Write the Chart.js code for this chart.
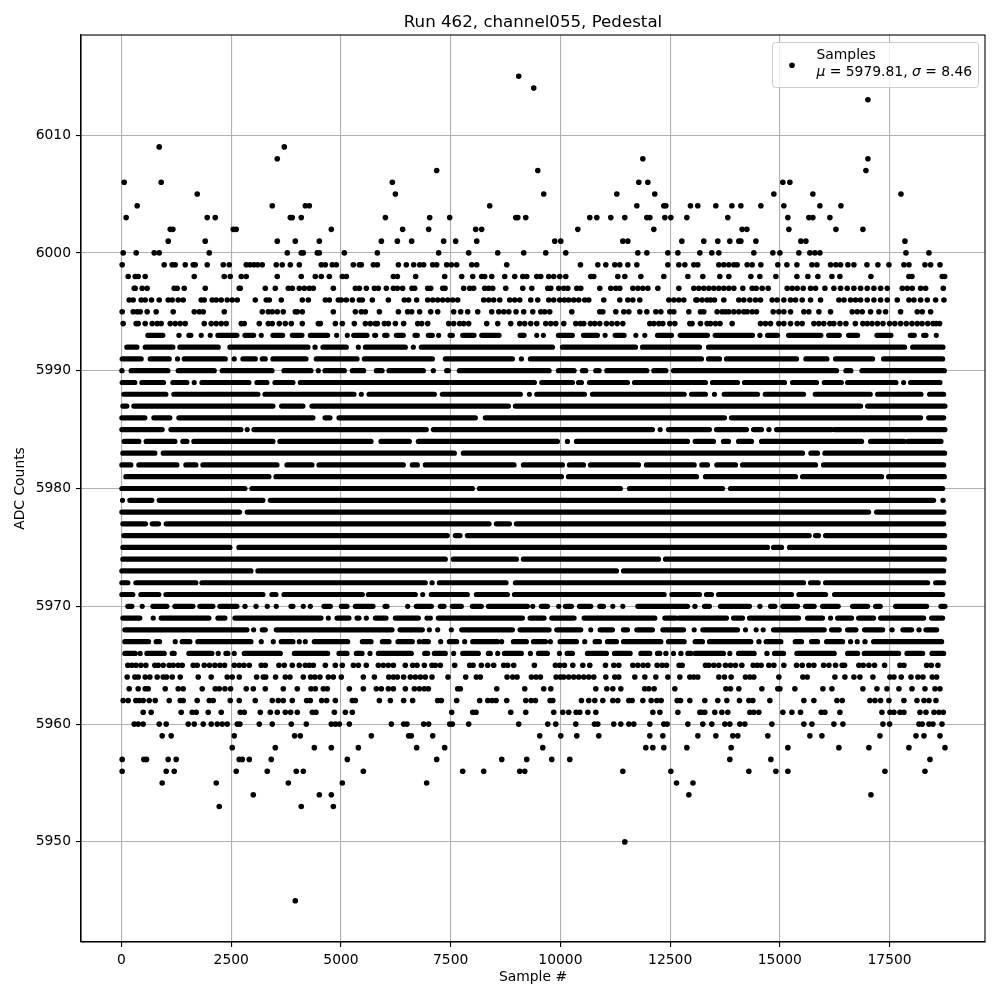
<!DOCTYPE html>
<html>
<head>
<meta charset="utf-8">
<title>Run 462, channel055, Pedestal</title>
<script src="https://cdn.jsdelivr.net/npm/chart.js@4/dist/chart.umd.min.js"></script>
<style>
  html, body { margin: 0; background: #fff; }
  canvas { display: block; }
</style>
</head>
<body>
<canvas id="chart" width="1000" height="1000"></canvas>
<script>
const xTicks = [0, 2500, 5000, 7500, 10000, 12500, 15000, 17500];
const yTicks = [5950, 5960, 5970, 5980, 5990, 6000, 6010];

// ADC levels with few samples: level, then the sample numbers
const sparseLevels = [6015, 6014, 6013, 6009, 6008, 6007, 6006, 6005, 6004, 6003, 6002, 6001, 6000,
  5999, 5998, 5997, 5996, 5995, 5994,
  5965, 5964, 5963, 5962, 5961, 5960, 5959, 5958, 5957, 5956, 5955, 5954, 5953, 5950, 5945];
const sparseSamples = [
  [9050],
  [9392],
  [17006],
  [859, 3709],
  [3549, 11878, 17006],
  [7181, 9484, 16961],
  [61, 904, 6171, 11786, 11992, 15068, 15228],
  [1725, 6240, 9620, 11285, 12150, 14863, 15752, 17759],
  [357, 3435, 4188, 4279, 8389, 11741, 12356, 12402, 12963, 13130, 13541, 13906, 14111, 14567, 15091, 15912, 16391],
  [106, 1953, 2136, 3846, 3891, 4096, 6012, 7021, 7477, 8982, 9028, 9210, 10669, 10829, 11148, 11467, 11969, 12037, 12379, 12516, 12881, 13814, 15182, 15661, 15752, 16140],
  [1110, 1170, 2546, 2614, 4780, 6405, 6998, 8070, 8206, 10396, 12128, 14141, 14248, 15205, 16277, 16892],
  [1064, 1908, 3549, 3960, 4507, 5920, 6285, 6611, 7340, 7614, 8093, 9871, 10008, 11422, 11536, 12767, 13267, 13586, 13860, 14065, 14111, 14453, 15479, 15593, 17850],
  [38, 334, 745, 859, 1999, 3777, 4096, 4142, 4461, 4507, 5077, 5829, 7226, 7910, 8572, 9164, 9666, 10122, 11764, 11969, 12448, 12676, 13176, 13450, 13609, 14407, 14840, 15000, 15433, 15684, 15798, 15912, 17873, 18397],
  [15, 973, 1155, 1224, 1452, 1634, 1680, 1953, 2318, 2455, 2842, 2926, 3017, 3101, 3207, 3526, 3663, 3846, 4051, 4552, 4644, 4803, 4894, 5282, 5419, 5464, 5738, 5829, 6308, 6489, 6656, 6793, 6885, 7090, 7181, 7409, 7515, 7637, 7979, 8093, 8777, 10456, 10852, 11034, 11239, 11353, 11536, 11741, 12448, 12698, 12835, 13039, 13130, 13609, 13723, 13837, 13951, 14027, 14255, 14369, 14567, 14954, 15160, 15388, 15730, 15844, 16155, 16277, 16383, 16550, 16687, 16984, 17234, 17485, 17827, 17941, 18306, 18435, 18648],
  [152, 312, 380, 540, 1657, 2341, 2478, 2728, 2842, 3549, 4096, 4416, 4552, 4735, 5031, 5122, 6194, 6285, 6702, 7363, 7751, 8002, 8206, 8275, 8435, 8731, 8959, 9142, 9233, 9461, 9552, 9734, 9848, 9985, 10122, 10692, 10760, 11308, 11467, 11832, 12356, 12904, 13244, 13632, 13837, 14339, 14544, 14909, 15388, 15638, 15866, 16186, 16368, 17075, 17941, 18010, 18700, 18755],
  [289, 312, 471, 585, 1201, 1269, 1429, 1908, 2683, 2706, 3276, 3504, 3800, 3891, 4051, 4165, 4279, 4370, 4826, 5328, 5419, 5578, 5761, 5852, 6034, 6194, 6285, 6405, 6618, 6679, 6976, 7044, 7318, 7371, 7796, 7933, 8024, 8275, 8366, 8458, 8754, 9142, 9347, 9712, 9780, 9962, 10076, 10168, 10373, 10464, 10897, 11148, 11262, 11353, 11650, 11764, 11878, 11992, 12220, 12698, 13039, 13153, 13267, 13381, 13495, 13609, 13723, 13837, 13951, 14156, 14369, 14460, 14597, 14734, 15167, 15281, 15395, 15532, 15699, 15813, 16026, 16231, 16383, 16535, 16687, 16839, 16991, 17143, 17295, 17447, 17789, 17903, 18017, 18207, 18321, 18724],
  [175, 266, 448, 540, 684, 859, 1064, 1155, 1292, 1406, 1816, 1885, 2067, 2158, 2272, 2409, 2523, 2637, 3048, 3298, 3367, 3640, 4119, 4256, 4644, 4735, 4940, 5008, 5122, 5259, 5419, 5487, 5715, 6080, 6444, 6542, 6725, 6976, 7090, 7204, 7318, 7432, 7546, 7660, 8252, 8366, 8480, 8618, 8845, 8959, 9073, 9324, 9484, 9734, 9848, 9985, 10092, 10190, 10304, 10418, 10555, 10646, 10988, 11353, 11536, 11650, 11809, 12470, 12584, 12698, 12812, 13086, 13115, 13229, 13343, 13419, 13510, 13723, 14065, 14179, 14316, 14445, 14559, 14825, 14939, 15091, 15243, 15357, 15509, 15699, 15927, 16345, 16461, 16611, 16725, 16839, 16991, 17143, 17295, 17447, 17675, 17941, 18055, 18207, 18359, 18549, 18739],
  [15, 266, 357, 426, 585, 790, 1178, 1657, 1771, 1862, 2341, 3207, 3344, 3435, 3549, 3686, 3960, 4005, 4119, 4826, 5328, 5464, 5556, 5875, 6308, 6519, 6611, 6793, 7044, 7204, 7568, 7728, 7888, 8116, 8435, 8596, 8710, 8824, 8990, 9164, 9370, 9552, 9643, 9757, 10259, 10897, 10966, 11262, 11444, 11558, 11809, 11969, 12174, 12288, 12493, 12584, 12926, 13192, 13267, 13571, 13685, 13761, 13837, 13951, 14065, 14179, 14255, 14369, 14468, 14848, 14977, 15091, 15243, 15547, 15661, 15889, 16155, 16649, 16763, 16877, 17067, 17257, 17409, 17751, 18131, 18245, 18435],
  [38, 334, 380, 540, 699, 813, 904, 1110, 1224, 1338, 1452, 1885, 2044, 2158, 2272, 2386, 2728, 2797, 3139, 3344, 3435, 3595, 3732, 3868, 4119, 4484, 4530, 4872, 5031, 5305, 5556, 5670, 5784, 5829, 5989, 6080, 6240, 6428, 6748, 6839, 6976, 7454, 7568, 7705, 7796, 7910, 8321, 8572, 8868, 9073, 9187, 9324, 9461, 9666, 9780, 9894, 10076, 10350, 10456, 10532, 10684, 10783, 10897, 11049, 11171, 11292, 11422, 12037, 12128, 12242, 12333, 12493, 12607, 12949, 13000, 13191, 13343, 13420, 13534, 13637, 13913, 14559, 14673, 14787, 14977, 15091, 15243, 15395, 15509, 15775, 15889, 16000, 16140, 16230, 16370, 16505, 16720, 16890, 16990, 17100, 17224, 17350, 17500, 17620, 17750, 17880, 18010, 18130, 18240, 18370, 18490, 18560, 18640],
  [144, 236, 327, 441, 555, 760, 836, 950, 1087, 1178, 1292, 1383, 1634, 1725, 1885, 2006, 2128, 2242, 2348, 2569, 2683, 2789, 2911, 3184, 3276, 3587, 3709, 3891, 4051, 4188, 4279, 4370, 4644, 4872, 5031, 5282, 5396, 5578, 5852, 5966, 6080, 6194, 6466, 6634, 6733, 6900, 7074, 7150, 7264, 7591, 7933, 8009, 8199, 8344, 8480, 8708, 8800, 8936, 9407, 9886, 9985, 10092, 10282, 10510, 10669, 11026, 11216, 11330, 11650, 11764, 11885, 11992, 12204, 12318, 12417, 12706, 12774, 13305, 13381, 13495, 13609, 13761, 13875, 13989, 14134, 14392, 14483, 14574, 14749, 14863, 15091, 15380, 15509, 15661, 15775, 15996, 16117, 16269, 16421, 16474, 16801, 16900, 17029, 17158, 17386, 17736, 17827, 18344, 18450, 18602],
  [129, 304, 380, 540, 646, 813, 950, 1026, 1155, 1338, 1748, 2044, 2409, 2523, 2683, 3078, 3230, 3284, 3511, 3732, 3838, 4142, 4309, 4408, 4522, 4712, 4826, 5008, 5510, 5761, 6088, 6194, 6285, 6428, 6580, 6694, 6808, 6922, 7074, 7439, 7842, 8085, 8176, 8784, 8914, 9012, 9339, 9446, 9544, 9902, 10000, 10076, 10190, 10304, 10418, 10532, 10646, 10760, 11034, 11239, 11330, 11695, 11923, 12174, 12448, 12721, 12949, 13039, 13130, 13609, 13738, 13890, 14217, 14316, 14407, 14977, 15524, 15623, 16254, 16482, 16687, 16824, 17120, 17508, 17599, 17766, 17987, 18146, 18260, 18473, 18572],
  [175, 380, 540, 608, 996, 1292, 1406, 1839, 2136, 2227, 2356, 2485, 2842, 3002, 3276, 3686, 4005, 4317, 4416, 4598, 4689, 5191, 5510, 5806, 5920, 6080, 6194, 6467, 6672, 6786, 6900, 6991, 7660, 7720, 8549, 9187, 9620, 9780, 10806, 11057, 11194, 11376, 11921, 12014, 12135, 12607, 13769, 13875, 14065, 14590, 14954, 15000, 15342, 15980, 16186, 16892, 17212, 17440, 17713, 18010, 18306, 18534, 18648],
  [38, 152, 327, 403, 494, 631, 768, 1087, 1338, 1406, 1725, 1999, 2090, 2478, 2683, 3048, 3435, 3572, 3686, 3891, 4218, 4302, 4560, 4674, 4872, 5259, 5328, 5875, 6126, 6428, 6633, 7204, 7287, 7637, 8161, 8344, 8443, 8534, 8777, 9210, 9332, 9430, 9765, 9826, 10479, 10646, 10783, 10966, 11194, 11308, 11558, 11634, 11878, 12068, 12197, 12296, 12660, 12736, 12949, 13290, 13586, 13792, 14080, 14293, 14384, 14772, 15547, 15775, 16300, 16421, 17052, 17166, 17295, 17485, 17827, 18124, 18283, 18397, 18557],
  [494, 676, 1360, 1611, 1703, 1976, 2272, 2706, 2797, 3162, 3390, 3549, 3732, 3853, 4005, 4347, 4431, 4849, 5100, 5259, 7523, 8002, 8078, 8868, 9210, 9848, 10054, 10190, 10358, 10442, 10624, 10806, 12106, 12266, 12676, 13177, 13214, 13290, 13518, 13678, 13814, 14316, 14407, 14521, 15068, 15274, 15471, 15942, 16026, 16368, 17326, 17508, 17599, 17736, 17827, 18192, 18329, 18511, 18625, 18724],
  [289, 380, 494, 859, 1018, 1520, 1657, 1862, 2044, 2181, 2295, 2409, 2637, 2698, 3139, 3435, 3868, 4210, 4780, 4872, 4963, 5191, 6148, 6428, 6504, 6885, 6998, 7477, 7538, 7910, 9050, 9712, 9894, 10350, 10776, 10852, 11216, 11376, 11558, 11672, 12037, 12356, 12432, 12904, 13244, 13450, 13746, 13860, 14088, 14202, 14818, 15547, 15730, 16231, 16436, 17348, 17500, 18169, 18245, 18397, 18488, 18694],
  [927, 1132, 2569, 3944, 4074, 5692, 6542, 6603, 7090, 9529, 10008, 10373, 10874, 12037, 12333, 13132, 13541, 13928, 14042, 14726, 15684, 15958, 17280, 18101, 18283, 18648],
  [2523, 3504, 4393, 4780, 5396, 6725, 7363, 9598, 11946, 12106, 12356, 12881, 13890, 15182, 16345, 17029, 17941, 18762],
  [15, 509, 570, 1064, 1246, 2683, 2752, 2911, 3412, 5145, 7181, 8663, 9233, 9803, 10213, 13860, 14795, 18420],
  [15, 1018, 1201, 2614, 3321, 3982, 4142, 5510, 7774, 8252, 9073, 9187, 11422, 12516, 14293, 14909, 15182, 17394, 18306],
  [927, 2158, 3800, 5031, 6953, 12646, 13020],
  [3002, 4507, 4780, 12926, 17075],
  [2227, 4096, 4826],
  [11467],
  [3960]
];

// ADC levels so full that the samples merge: level, then start,end pairs of each unbroken stretch
const denseLevels = [5993, 5992, 5991, 5990, 5989, 5988, 5987, 5986, 5985, 5984, 5983, 5982, 5981, 5980,
  5979, 5978, 5977, 5976, 5975, 5974, 5973, 5972, 5971, 5970, 5969, 5968, 5967, 5966];
const denseStretches = [
  [600,942,1307,1311,1535,1581,1816,1820,2022,2026,2196,2630,2812,3010,3184,3188,3450,3671,3891,4112,4302,4697,4902,4906,5145,5149,5290,5594,5768,5791,5996,6050,6262,6420,6687,6740,6991,7082,7226,7230,7485,7538,7774,8032,8207,8602,9081,9172,9461,9465,9613,9617,9955,10274,10525,10844,11019,11023,11247,11452,11718,11722,11923,11927,12212,12531,12729,13351,13526,14377,14544,14548,14719,14947,15198,15935,16110,16353,16566,16771,17212,17531,17972,18063,18276,18329,18564,18568],
  [122,350,540,1170,1330,2204,2470,4248,4408,4412,4590,5122,5396,5400,5556,6467,6649,6653,6831,9818,10046,11710,11870,13168,13374,17842,18025,18716],
  [15,448,654,1087,1277,1281,1429,2364,2569,2573,2766,3048,3207,3276,3450,4203,4438,5366,5533,7082,7378,8906,9111,9115,9316,13214,13374,13625,13784,15380,15593,16072,16269,17112,17364,18709],
  [8,12,220,1056,1292,2113,2295,3428,3701,4317,4484,4488,4636,5077,5259,5518,5806,5936,6095,6877,7105,7109,7409,7447,7698,9742,9955,10312,10502,10578,10806,10882,11057,11969,12128,12402,12577,16292,16505,16619,16870,18747],
  [15,304,464,958,1170,1490,1657,1661,1832,2903,3086,3314,3496,3906,4074,9408,9575,10274,10411,10479,10662,11528,11688,13305,13465,14035,14194,15106,15289,15836,16012,16400,16543,17645,17820,17824,17979,18648],
  [53,1011,1193,3108,3268,5297,5464,5468,5639,7128,7310,9088,9294,9298,9461,10548,10730,12820,12988,13305,13510,13514,13731,14491,14666,15540,15806,17060,17227,18215,18412,18732],
  [30,122,281,3450,3648,4134,4340,8815,8974,16839,16999,18762],
  [8,532,737,1102,1307,4362,4636,4750,4955,8062,8290,13738,13898,18207,18390,18732],
  [8,927,1125,2721,2865,2869,3017,6945,7105,12098,12273,12277,12463,13396,13556,14240,14400,14582,14749,14753,14924,16178,16246,18762],
  [61,395,562,1216,1398,1490,1649,3450,3610,5685,5913,6558,6763,9932,10160,10164,10365,12896,13071,13488,13716,13830,14058,14354,14582,16862,17067,17827,17918,18671],
  [30,760,950,7584,7789,15517,15707,15859,16026,18754],
  [8,213,395,1262,1467,1695,1854,3542,3770,4340,4499,6421,6626,6740,6922,8944,9157,10046,10206,10525,10684,11779,11961,13048,13222,13351,13564,13989,14149,15813,15996,18732],
  [99,3359,3519,10023,10183,13101,13305,15357,15517,17318,17478,18747],
  [8,2812,2972,7994,8154,11368,11574,13693,13875,18709],
  [23,27,190,692,859,3222,3390,18504,18716,18720],
  [8,2690,2865,17022,17204,18739],
  [30,547,699,844,1018,8374,8541,8838,8997,18732],
  [53,7424,7606,7713,7880,15669,15813,15882,16041,18754],
  [30,2470,2675,14719,14856,15038,15220,18754],
  [30,7378,7561,8997,9157,12235,12394,18747],
  [8,2949,3108,11277,11437,18732],
  [8,144,327,1695,1832,6922,7074,7078,7242,8762,8974,15540,15699,15874,16041,18367,18549,18732],
  [8,258,441,851,1011,3222,3428,3519,3701,5487,5624,6694,6862,6866,7059,7880,8085,8792,8952,12364,12539,13168,13328,13442,13602,15266,15433,16041,16246,18709],
  [144,236,471,475,714,1034,1216,1626,1786,2082,2242,2630,2812,2816,3063,3067,3321,3325,3526,3530,3861,3906,4142,4146,4302,4306,4613,4758,5008,5138,5328,5730,6004,6050,6520,6524,6717,7059,7264,7348,7538,7743,7994,8199,8359,9248,9370,9374,9567,9704,9962,9966,10114,10251,10434,10692,10897,10981,11194,11198,11422,11426,11764,12896,13063,13067,13282,13396,13647,14308,14544,14548,14787,14886,15068,15403,15585,15783,15973,16330,16657,16999,17181,17288,17637,18344,18671,18762],
  [30,418,722,726,904,1991,2196,2356,2584,4545,4712,4716,4910,5183,5366,5411,5578,5582,5784,6027,6239,6763,6960,6964,7036,7040,7219,9134,9309,9628,9803,10312,10540,12151,12379,12630,12700,13784,13944,14149,14308,15426,15631,15973,16155,16159,16315,16634,16794,17136,17295,18276,18458,18709],
  [76,2858,3010,3014,3207,3276,3526,6164,6346,6854,7014,7018,7204,7208,7515,7519,7751,8906,9081,9742,9917,10464,10692,10696,10905,11186,11437,11528,11741,12098,12334,12805,13048,13052,13244,14035,14217,14221,14460,14464,14620,14624,14856,16011,16178,16353,16543,16733,16930,17341,17554,17558,17804,18002,18169,18173,18329,18572],
  [76,616,790,866,1224,1228,1383,1558,1740,2949,3184,3188,3458,3462,3640,3906,4051,4055,4188,4192,4393,5153,5487,5685,5943,6095,6300,6626,6786,6790,6877,6991,7272,7276,7470,7637,7819,7823,8002,8564,8662,8666,8929,9225,9385,9658,9772,9776,9993,10365,10555,10559,10791,10890,11072,11277,11437,12288,12463,12820,13070,13237,13396,14339,14521,14525,14688,15023,15350,15494,15722,15859,16064,16429,16611,16615,16763,16767,16938,16942,17136,18686],
  [76,312,426,430,578,973,1155,1201,1535,2060,2204,2208,2379,2424,2569,2573,2797,3618,3937,4697,4955,5138,5350,5480,5662,5666,5852,6603,6907,6976,7128,7378,7568,7572,7774,8131,8359,8404,8572,8576,8724,9111,9317,9321,9499,9704,9978,9982,10152,10274,10616,11049,11232,11589,11832,12037,12212,12265,12402,12406,12577,12581,12744,12748,12904,12972,13070,13715,13860,13864,14058,14415,14704,14708,14878,15084,15388,16239,16543,16771,16923,17706,17896,18253,18466,18732]
];

const DOT_RADIUS = 2.8;

function buildSparsePoints() {
  const out = [];
  sparseLevels.forEach((level, i) => {
    sparseSamples[i].forEach(s => out.push({ x: s, y: level }));
  });
  return out;
}

function buildDensePath() {
  // NaN between stretches leaves a gap in the line
  const out = [];
  denseLevels.forEach((level, i) => {
    const row = denseStretches[i];
    for (let k = 0; k < row.length; k += 2) {
      out.push({ x: row[k], y: level }, { x: row[k + 1], y: level }, { x: NaN, y: NaN });
    }
  });
  return out;
}

const frameAndLegend = {
  id: 'frameAndLegend',
  afterDraw(chart) {
    const ctx = chart.ctx;
    const a = chart.chartArea;
    ctx.save();
    ctx.strokeStyle = '#000';
    ctx.lineWidth = 1.1;
    ctx.strokeRect(a.left, a.top, a.right - a.left, a.bottom - a.top);

    // legend box, matplotlib style
    ctx.beginPath();
    ctx.roundRect(772.5, 42.5, 206, 45, 3);
    ctx.fillStyle = 'rgba(255,255,255,0.8)';
    ctx.fill();
    ctx.strokeStyle = '#ccc';
    ctx.lineWidth = 1;
    ctx.stroke();

    ctx.beginPath();
    ctx.arc(792, 65.3, DOT_RADIUS, 0, Math.PI * 2);
    ctx.fillStyle = '#000';
    ctx.fill();

    ctx.textBaseline = 'alphabetic';
    ctx.textAlign = 'left';
    const normal = '13.89px "DejaVu Sans"';
    const italic = 'italic 13.89px "DejaVu Sans"';
    ctx.font = normal;
    ctx.fillText('Samples', 816.5, 59);
    let x = 816.5;
    [[italic, 'μ'], [normal, ' = 5979.81, '], [italic, 'σ'], [normal, ' = 8.46']].forEach(part => {
      ctx.font = part[0];
      ctx.fillText(part[1], x, 76);
      x += ctx.measureText(part[1]).width;
    });
    ctx.restore();
  }
};

const axisFont = { family: '"DejaVu Sans"', size: 13.89 };

new Chart(document.getElementById('chart'), {
  type: 'scatter',
  data: {
    datasets: [
      {
        label: 'Samples',
        data: buildSparsePoints(),
        backgroundColor: '#000',
        borderColor: '#000',
        pointRadius: DOT_RADIUS,
        pointBorderWidth: 0
      },
      {
        label: 'Samples (merged)',
        data: buildDensePath(),
        showLine: true,
        borderColor: '#000',
        borderWidth: 5.2,
        borderCapStyle: 'round',
        pointRadius: 0
      }
    ]
  },
  options: {
    responsive: false,
    animation: false,
    layout: { padding: { right: 15 } },
    plugins: {
      legend: { display: false },
      tooltip: { enabled: false },
      title: {
        display: true,
        fullSize: false,
        text: 'Run 462, channel055, Pedestal',
        color: '#000',
        font: { family: '"DejaVu Sans"', size: 16.67, weight: 'normal' },
        padding: { top: 13, bottom: 2 }
      }
    },
    scales: {
      x: {
        type: 'linear',
        min: -923,
        max: 19674,
        afterBuildTicks: s => { s.ticks = xTicks.map(v => ({ value: v })); },
        afterFit: s => { s.height = 58; },
        grid: { color: '#b0b0b0', lineWidth: 1.1, tickColor: '#000', tickLength: 5 },
        border: { color: '#000', width: 1.1 },
        ticks: { color: '#000', font: axisFont, maxRotation: 0, padding: 5, callback: v => String(v) },
        title: { display: true, text: 'Sample #', color: '#000', font: axisFont, padding: { top: 2, bottom: 14 } }
      },
      y: {
        type: 'linear',
        min: 5941.5,
        max: 6018.5,
        afterBuildTicks: s => { s.ticks = yTicks.map(v => ({ value: v })); },
        afterFit: s => { s.width = 81; },
        grid: { color: '#b0b0b0', lineWidth: 1.1, tickColor: '#000', tickLength: 5 },
        border: { color: '#000', width: 1.1 },
        ticks: { color: '#000', font: axisFont, padding: 5, callback: v => String(v) },
        title: { display: true, text: 'ADC Counts', color: '#000', font: axisFont, padding: { top: 12, bottom: 0 } }
      }
    }
  },
  plugins: [frameAndLegend]
});
</script>
</body>
</html>
